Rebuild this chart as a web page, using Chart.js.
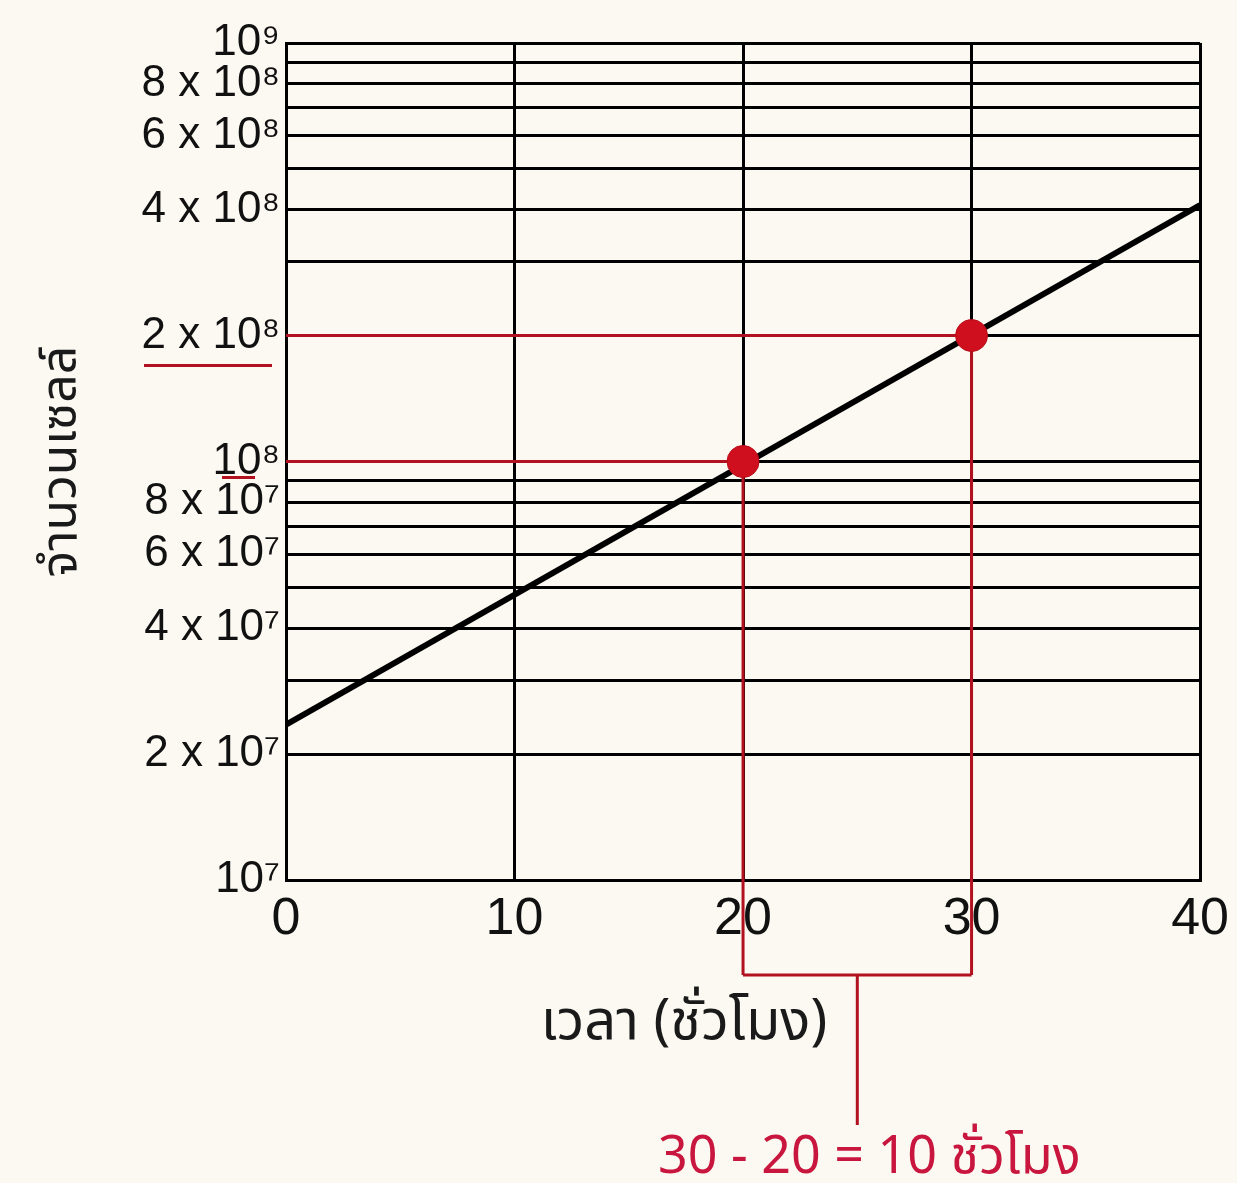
<!DOCTYPE html>
<html><head><meta charset="utf-8">
<script src="https://cdn.jsdelivr.net/npm/chart.js@4.4.1/dist/chart.umd.min.js"></script>
<style>
html,body{margin:0;padding:0;background:#fcf9f2;}
#wrap{position:relative;width:1237px;height:1183px;}
canvas{display:block;}
</style></head><body>
<div id="wrap"><canvas id="c"></canvas></div>
<script>
// ---- data ----
const hours = [0, 40];
const cellCount = [2.35e7, 4.1e8];
const markedHours = [20, 30];
const markedCounts = [1e8, 2e8];
const xTickValues = [0, 10, 20, 30, 40];
const yGridValues = [1e7,2e7,3e7,4e7,5e7,6e7,7e7,8e7,9e7,1e8,2e8,3e8,4e8,5e8,6e8,7e8,8e8,9e8,1e9];
const yLabelValues = [1e7, 2e7, 4e7, 6e7, 8e7, 1e8, 2e8, 4e8, 6e8, 8e8, 1e9];
const yLabelTexts = ['10⁷', '2 x 10⁷', '4 x 10⁷', '6 x 10⁷', '8 x 10⁷', '10⁸', '2 x 10⁸', '4 x 10⁸', '6 x 10⁸', '8 x 10⁸', '10⁹'];
const yTitle = 'จำนวนเซลล์';
const xTitle = 'เวลา (ชั่วโมง)';
const diffLabel = '30 - 20 = 10 ชั่วโมง';

const THAI = '"Noto Sans Thai", Kanit, Prompt, "Noto Sans", "DejaVu Sans", sans-serif';
const LATIN = '"Liberation Sans", Arial, Helvetica, sans-serif';
const RED_LINE = '#b2121f';
const RED_DOT = '#cf0f1e';
const RED_TEXT = '#c8163f';

const guides = {
  id: 'guides',
  beforeDatasetsDraw(chart) {
    const {ctx, chartArea, scales: {x, y}} = chart;
    const bracketY = chartArea.bottom + 95;
    ctx.save();
    ctx.strokeStyle = RED_LINE;
    ctx.lineWidth = 3;
    ctx.beginPath();
    markedHours.forEach((h, i) => {
      const px = x.getPixelForValue(h), py = y.getPixelForValue(markedCounts[i]);
      ctx.moveTo(chartArea.left, py); ctx.lineTo(px, py);
      ctx.moveTo(px, py); ctx.lineTo(px, bracketY);
    });
    const x0 = x.getPixelForValue(markedHours[0]), x1 = x.getPixelForValue(markedHours[1]);
    ctx.moveTo(x0, bracketY); ctx.lineTo(x1, bracketY);
    const mid = (x0 + x1) / 2;
    ctx.moveTo(mid, bracketY); ctx.lineTo(mid, bracketY + 150);
    // underlines of highlighted tick labels
    const y2 = y.getPixelForValue(markedCounts[1]) + 30;
    ctx.moveTo(chartArea.left - 142, y2); ctx.lineTo(chartArea.left - 14, y2);
    const y1 = y.getPixelForValue(markedCounts[0]) + 16;
    ctx.moveTo(chartArea.left - 64, y1); ctx.lineTo(chartArea.left - 31, y1);
    ctx.stroke();
    ctx.restore();
  },
  afterDraw(chart) {
    const {ctx, chartArea, scales: {x}} = chart;
    const x0 = x.getPixelForValue(markedHours[0]), x1 = x.getPixelForValue(markedHours[1]);
    const mid = (x0 + x1) / 2;
    ctx.save();
    ctx.textAlign = 'center';
    ctx.textBaseline = 'middle';
    ctx.fillStyle = RED_TEXT;
    ctx.font = '52px ' + THAI;
    ctx.fillText(diffLabel, mid + 12, chartArea.bottom + 282);
    ctx.fillStyle = '#1a1a1a';
    ctx.font = '56px ' + THAI;
    ctx.fillText(xTitle, chartArea.left + 398, chartArea.bottom + 148);
    ctx.restore();
  }
};

new Chart(document.getElementById('c'), {
  type: 'scatter',
  data: {
    datasets: [
      {
        label: 'marked',
        data: markedHours.map((h, i) => ({x: h, y: markedCounts[i]})),
        pointRadius: 16,
        pointBackgroundColor: RED_DOT,
        pointBorderColor: '#b80d1a',
        pointBorderWidth: 1,
        showLine: false
      },
      {
        label: 'cells',
        data: hours.map((h, i) => ({x: h, y: cellCount[i]})),
        showLine: true,
        borderColor: '#000',
        borderWidth: 6,
        pointRadius: 0
      }
    ]
  },
  options: {
    responsive: true,
    maintainAspectRatio: false,
    animation: false,
    layout: {padding: {top: 43, right: 35, left: 0, bottom: 0}},
    plugins: {legend: {display: false}, tooltip: {enabled: false}},
    scales: {
      x: {
        type: 'linear', min: 0, max: 40,
        afterBuildTicks: s => { s.ticks = xTickValues.map(v => ({value: v})); },
        afterFit: s => { s.height = 303; },
        grid: {color: '#000', lineWidth: 3, drawTicks: false},
        border: {color: '#000', width: 3},
        ticks: {color: '#111', font: {family: LATIN, size: 52}, padding: 8, maxRotation: 0, autoSkip: false}
      },
      y: {
        type: 'logarithmic', min: 1e7, max: 1e9,
        afterBuildTicks: s => { s.ticks = yGridValues.map(v => ({value: v})); },
        afterFit: s => { s.width = 286; },
        grid: {color: '#000', lineWidth: 3, drawTicks: false},
        border: {color: '#000', width: 3},
        ticks: {
          color: '#111', font: {family: LATIN, size: 44}, padding: 6, autoSkip: false,
          callback: v => {
            const i = yLabelValues.findIndex(t => Math.abs(t - v) / t < 1e-6);
            return i >= 0 ? yLabelTexts[i] : '';
          }
        },
        title: {display: true, text: yTitle, color: '#1a1a1a', font: {family: THAI, size: 50}, padding: {top: 36, bottom: 0}}
      }
    }
  },
  plugins: [guides]
});
</script>
</body></html>
